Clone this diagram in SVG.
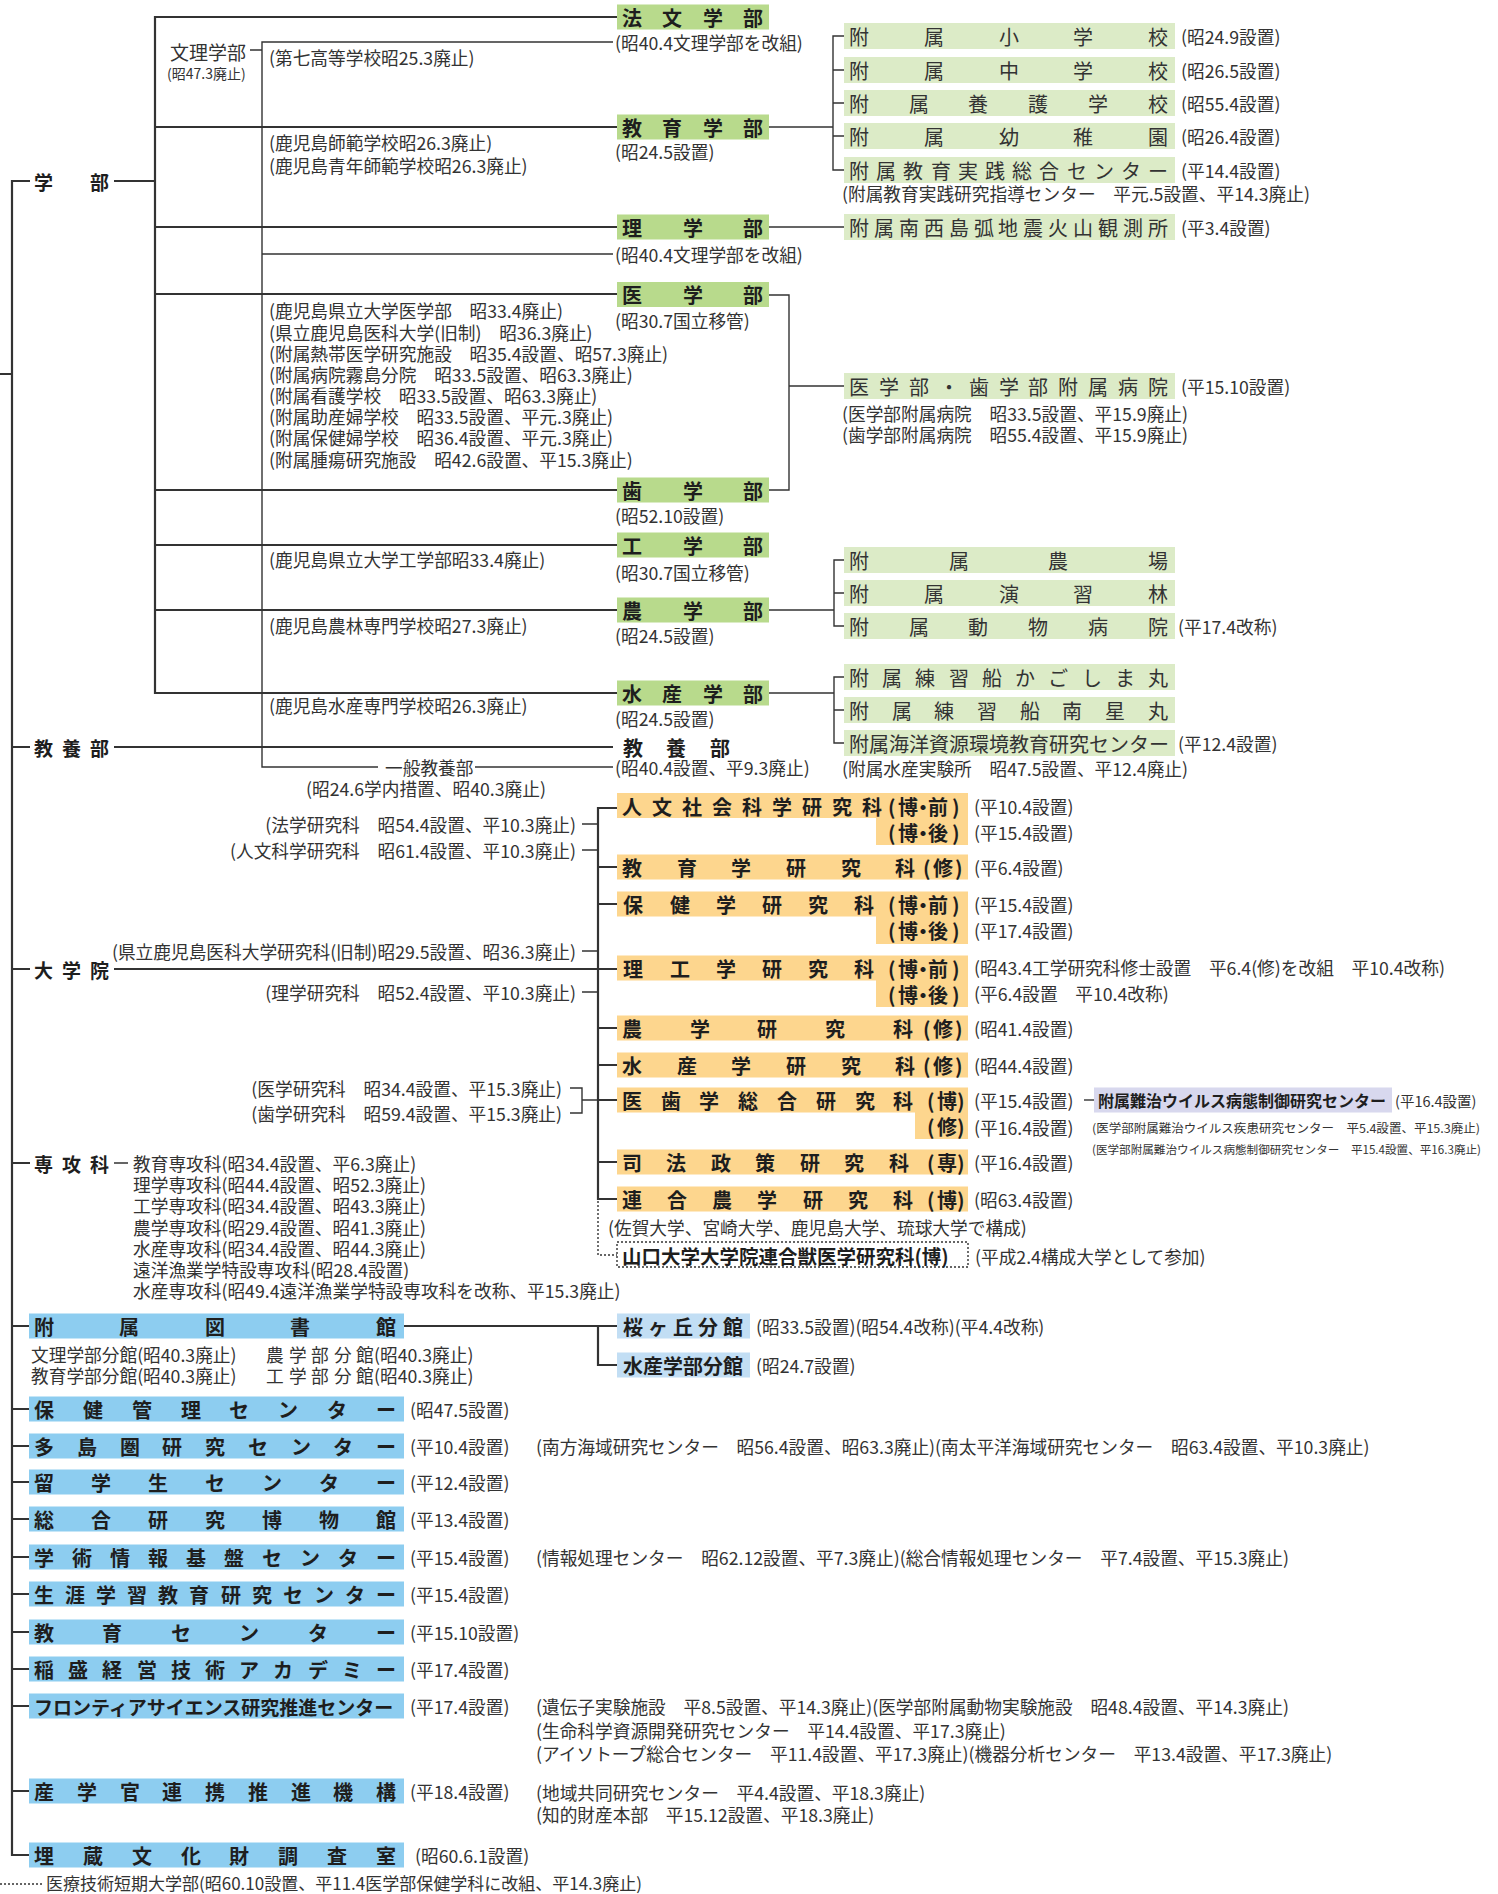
<svg xmlns="http://www.w3.org/2000/svg" width="1498" height="1894" viewBox="0 0 1498 1894">
<style>
text{font-family:"Noto Sans CJK JP","Noto Sans CJK SC",sans-serif;fill:#333;dominant-baseline:central}
.s{font-size:17.7px}
.xs{font-size:12px}
.b{font-size:20px;font-weight:bold;fill:#1e1e1e}
.lb{font-size:19px;font-weight:bold;fill:#1e1e1e}
.r{font-size:20px;fill:#333}
.fac{fill:#b8da8c}
.sub{fill:#dcebc7}
.gr{fill:#fdd68e}
.bl{fill:#8dcdf0}
.pu{fill:#d8d8ee}
.m{stroke:#333;stroke-width:2.2;fill:none}
.t{stroke:#333;stroke-width:1.4;fill:none}
.d{stroke:#333;stroke-width:1.4;fill:none;stroke-dasharray:2 2}
</style>
<rect width="1498" height="1894" fill="#fff"/>
<g id="connectors">
<path class="m" d="M30 181H12V1855H29M0 374H12M12 747H30M12 969H30M12 1163H30M12 1326H29M12 1409H29M12 1446H29M12 1482H29M12 1519H29M12 1557H29M12 1594H29M12 1632H29M12 1669H29M12 1706H29M12 1791H29"/>
<path class="m" d="M114 181H155M617 17H155V693H617M155 127H617M155 227H617M155 294H617M155 490H617M155 545H617M155 610H617"/>
<path class="m" d="M114 747H613M114 969H617M617 808H598V1199H617M598 867H617M598 904H617M598 1028H617M598 1065H617M598 1100H617M598 1162H617"/>
<path class="t" d="M582 824H598M582 850H598M582 951H598M582 992H598M570 1088H582V1113H570M582 1100H598M114 1163H128"/>
<path class="m" d="M404 1326H617M598 1326V1365H617"/>
<path class="t" d="M613 42H262V767H378M475 767H613M262 254H613M250 50H262"/>
<path class="t" d="M769 127H833M844 36H833V170H844M833 70H844M833 103H844M833 136H844M769 227H844"/>
<path class="t" d="M769 295H789V490H769M789 386H844"/>
<path class="t" d="M769 610H834M844 560H834V626H844M834 593H844M769 693H834M844 677H834V743H844M834 710H844"/>
<path class="t" d="M1084 1100H1094"/>
<path class="d" d="M598 1201V1255H617M0 1884H44"/>
</g>

<g id="left-labels">
<text class="lb" x="34 90" y="181">学部</text>
<text class="lb" x="34 62 90" y="747">教養部</text>
<text class="lb" x="34 62 90" y="969">大学院</text>
<text class="lb" x="34 62 90" y="1163">専攻科</text>
</g>

<g id="bunri">
<text x="170" y="51" style="font-size:19px">文理学部</text>
<text x="167" y="73" style="font-size:14px">(昭47.3廃止)</text>
<text class="s" x="269" y="57">(第七高等学校昭25.3廃止)</text>
<text class="s" x="615" y="42">(昭40.4文理学部を改組)</text>
<text class="s" x="615" y="254">(昭40.4文理学部を改組)</text>
</g>

<g id="old-notes">
<text class="s" x="269" y="142">(鹿児島師範学校昭26.3廃止)</text>
<text class="s" x="269" y="165">(鹿児島青年師範学校昭26.3廃止)</text>
<text class="s" x="269" y="310">(鹿児島県立大学医学部　昭33.4廃止)</text>
<text class="s" x="269" y="332">(県立鹿児島医科大学(旧制)　昭36.3廃止)</text>
<text class="s" x="269" y="353">(附属熱帯医学研究施設　昭35.4設置、昭57.3廃止)</text>
<text class="s" x="269" y="374">(附属病院霧島分院　昭33.5設置、昭63.3廃止)</text>
<text class="s" x="269" y="395">(附属看護学校　昭33.5設置、昭63.3廃止)</text>
<text class="s" x="269" y="416">(附属助産婦学校　昭33.5設置、平元.3廃止)</text>
<text class="s" x="269" y="437">(附属保健婦学校　昭36.4設置、平元.3廃止)</text>
<text class="s" x="269" y="459">(附属腫瘍研究施設　昭42.6設置、平15.3廃止)</text>
<text class="s" x="269" y="559">(鹿児島県立大学工学部昭33.4廃止)</text>
<text class="s" x="269" y="625">(鹿児島農林専門学校昭27.3廃止)</text>
<text class="s" x="269" y="705">(鹿児島水産専門学校昭26.3廃止)</text>
<text class="s" x="385" y="767">一般教養部</text>
<text class="s" x="306" y="788">(昭24.6学内措置、昭40.3廃止)</text>
</g>

<g id="hobun"><rect class="fac" x="617" y="4.5" width="152" height="25"/><text class="b" x="622 662 703 743" y="17">法文学部</text></g>
<g id="kyoiku"><rect class="fac" x="617" y="114.5" width="152" height="25"/><text class="b" x="622 662 703 743" y="127">教育学部</text><text class="s" x="615" y="151">(昭24.5設置)</text></g>
<g id="rigaku"><rect class="fac" x="617" y="214.5" width="152" height="25"/><text class="b" x="622 683 743" y="227">理学部</text></g>
<g id="igaku"><rect class="fac" x="617" y="282" width="152" height="25"/><text class="b" x="622 683 743" y="294.5">医学部</text><text class="s" x="615" y="320">(昭30.7国立移管)</text></g>
<g id="shigaku"><rect class="fac" x="617" y="477.5" width="152" height="25"/><text class="b" x="622 683 743" y="490">歯学部</text><text class="s" x="615" y="515">(昭52.10設置)</text></g>
<g id="kogaku"><rect class="fac" x="617" y="532.5" width="152" height="25"/><text class="b" x="622 683 743" y="545">工学部</text><text class="s" x="615" y="572">(昭30.7国立移管)</text></g>
<g id="nogaku"><rect class="fac" x="617" y="597.5" width="152" height="25"/><text class="b" x="622 683 743" y="610">農学部</text><text class="s" x="615" y="635">(昭24.5設置)</text></g>
<g id="suisan"><rect class="fac" x="617" y="680.5" width="152" height="25"/><text class="b" x="622 662 703 743" y="693">水産学部</text><text class="s" x="615" y="718">(昭24.5設置)</text></g>
<g id="kyoyobu"><text class="b" x="623 666 710" y="747">教養部</text><text class="s" x="615" y="767">(昭40.4設置、平9.3廃止)</text></g>

<g id="fuzoku-sho"><rect class="sub" x="844" y="23" width="331" height="26"/><text class="r" x="849 924 999 1073 1148" y="36">附属小学校</text><text class="s" x="1181" y="36">(昭24.9設置)</text></g>
<g id="fuzoku-chu"><rect class="sub" x="844" y="57" width="331" height="26"/><text class="r" x="849 924 999 1073 1148" y="70">附属中学校</text><text class="s" x="1181" y="70">(昭26.5設置)</text></g>
<g id="fuzoku-yogo"><rect class="sub" x="844" y="90" width="331" height="26"/><text class="r" x="849 909 968 1028 1088 1148" y="103">附属養護学校</text><text class="s" x="1181" y="103">(昭55.4設置)</text></g>
<g id="fuzoku-yochien"><rect class="sub" x="844" y="123" width="331" height="26"/><text class="r" x="849 924 999 1073 1148" y="136">附属幼稚園</text><text class="s" x="1181" y="136">(昭26.4設置)</text></g>
<g id="fuzoku-jissen"><rect class="sub" x="844" y="157" width="331" height="26"/><text class="r" x="849 876 903 931 958 985 1012 1039 1067 1094 1121 1148" y="170">附属教育実践総合センター</text><text class="s" x="1181" y="170">(平14.4設置)</text><text class="s" x="842" y="193">(附属教育実践研究指導センター　平元.5設置、平14.3廃止)</text></g>
<g id="fuzoku-jishin"><rect class="sub" x="844" y="214" width="331" height="26"/><text class="r" x="849 874 899 924 949 974 998 1023 1048 1073 1098 1123 1148" y="227">附属南西島弧地震火山観測所</text><text class="s" x="1181" y="227">(平3.4設置)</text></g>
<g id="byoin"><rect class="sub" x="844" y="373" width="331" height="26"/><text class="r" x="849 879 909 939 969 999 1028 1058 1088 1118 1148" y="386">医学部・歯学部附属病院</text><text class="s" x="1181" y="386">(平15.10設置)</text><text class="s" x="842" y="413">(医学部附属病院　昭33.5設置、平15.9廃止)</text><text class="s" x="842" y="434">(歯学部附属病院　昭55.4設置、平15.9廃止)</text></g>
<g id="nojo"><rect class="sub" x="844" y="547" width="331" height="26"/><text class="r" x="849 949 1048 1148" y="560">附属農場</text></g>
<g id="enshurin"><rect class="sub" x="844" y="580" width="331" height="26"/><text class="r" x="849 924 999 1073 1148" y="593">附属演習林</text></g>
<g id="dobutsu"><rect class="sub" x="844" y="613" width="331" height="26"/><text class="r" x="849 909 968 1028 1088 1148" y="626">附属動物病院</text><text class="s" x="1178" y="626">(平17.4改称)</text></g>
<g id="kagoshimamaru"><rect class="sub" x="844" y="664" width="331" height="26"/><text class="r" x="849 882 915 949 982 1015 1048 1082 1115 1148" y="677">附属練習船かごしま丸</text></g>
<g id="nanseimaru"><rect class="sub" x="844" y="697" width="331" height="26"/><text class="r" x="849 892 934 977 1020 1062 1105 1148" y="710">附属練習船南星丸</text></g>
<g id="kaiyo"><rect class="sub" x="844" y="730" width="331" height="26"/><text class="r" x="849" y="743">附属海洋資源環境教育研究センター</text><text class="s" x="1178" y="743">(平12.4設置)</text><text class="s" x="842" y="768">(附属水産実験所　昭47.5設置、平12.4廃止)</text></g>

<g id="grad-notes">
<text class="s" x="576" y="824" text-anchor="end">(法学研究科　昭54.4設置、平10.3廃止)</text>
<text class="s" x="576" y="850" text-anchor="end">(人文科学研究科　昭61.4設置、平10.3廃止)</text>
<text class="s" x="576" y="951" text-anchor="end">(県立鹿児島医科大学研究科(旧制)昭29.5設置、昭36.3廃止)</text>
<text class="s" x="576" y="992" text-anchor="end">(理学研究科　昭52.4設置、平10.3廃止)</text>
<text class="s" x="562" y="1088" text-anchor="end">(医学研究科　昭34.4設置、平15.3廃止)</text>
<text class="s" x="562" y="1113" text-anchor="end">(歯学研究科　昭59.4設置、平15.3廃止)</text>
</g>

<g id="jinbun"><path class="gr" d="M617 793H968V845H876V818H617Z"/><text class="b" x="622 652 682 712 742 772 802 832 862" y="806">人文社会科学研究科</text><text class="b" x="888 898 913 928 952" y="806">(博・前)</text><text class="b" x="888 898 913 928 952" y="832">(博・後)</text><text class="s" x="974" y="806">(平10.4設置)</text><text class="s" x="974" y="832">(平15.4設置)</text></g>
<g id="kyoikugaku"><rect class="gr" x="617" y="854.5" width="351" height="25"/><text class="b" x="622 677 731 786 841 895" y="867">教育学研究科</text><text class="b" x="923 933 955" y="867">(修)</text><text class="s" x="974" y="867">(平6.4設置)</text></g>
<g id="hoken"><path class="gr" d="M617 891.5H968V944H876V916.5H617Z"/><text class="b" x="623 670 716 762 808 854" y="904">保健学研究科</text><text class="b" x="888 898 913 928 952" y="904">(博・前)</text><text class="b" x="888 898 913 928 952" y="930">(博・後)</text><text class="s" x="974" y="904">(平15.4設置)</text><text class="s" x="974" y="930">(平17.4設置)</text></g>
<g id="riko"><path class="gr" d="M617 955.5H968V1007H876V980.5H617Z"/><text class="b" x="623 670 716 762 808 854" y="968">理工学研究科</text><text class="b" x="888 898 913 928 952" y="968">(博・前)</text><text class="b" x="888 898 913 928 952" y="994">(博・後)</text><text class="s" x="974" y="967">(昭43.4工学研究科修士設置　平6.4(修)を改組　平10.4改称)</text><text class="s" x="974" y="993">(平6.4設置　平10.4改称)</text></g>
<g id="nogakuken"><rect class="gr" x="617" y="1015.5" width="351" height="25"/><text class="b" x="622 690 757 825 893" y="1028">農学研究科</text><text class="b" x="923 933 955" y="1028">(修)</text><text class="s" x="974" y="1028">(昭41.4設置)</text></g>
<g id="suisanken"><rect class="gr" x="617" y="1052.5" width="351" height="25"/><text class="b" x="622 677 731 786 841 895" y="1065">水産学研究科</text><text class="b" x="923 933 955" y="1065">(修)</text><text class="s" x="974" y="1065">(昭44.4設置)</text></g>
<g id="ishi"><path class="gr" d="M617 1087.5H968V1139H915V1112.5H617Z"/><text class="b" x="622 661 699 738 777 816 855 893" y="1100">医歯学総合研究科</text><text class="b" x="927 937 957" y="1100">(博)</text><text class="b" x="927 937 957" y="1126">(修)</text><text class="s" x="974" y="1100">(平15.4設置)</text><text class="s" x="974" y="1127">(平16.4設置)</text></g>
<g id="nanchi"><rect class="pu" x="1094" y="1087.5" width="298" height="25"/><text x="1098" y="1100" style="font-size:16px;font-weight:bold;fill:#1e1e1e" textLength="288" lengthAdjust="spacingAndGlyphs">附属難治ウイルス病態制御研究センター</text><text x="1395" y="1100" style="font-size:14.5px">(平16.4設置)</text><text class="xs" x="1092" y="1127" textLength="388" lengthAdjust="spacingAndGlyphs">(医学部附属難治ウイルス疾患研究センター　平5.4設置、平15.3廃止)</text><text class="xs" x="1092" y="1149" textLength="389" lengthAdjust="spacingAndGlyphs" style="font-size:11.5px">(医学部附属難治ウイルス病態制御研究センター　平15.4設置、平16.3廃止)</text></g>
<g id="shiho"><rect class="gr" x="617" y="1149.5" width="351" height="25"/><text class="b" x="622 666 711 755 800 844 889" y="1162">司法政策研究科</text><text class="b" x="927 937 957" y="1162">(専)</text><text class="s" x="974" y="1162">(平16.4設置)</text></g>
<g id="rengo"><rect class="gr" x="617" y="1186.5" width="351" height="25"/><text class="b" x="622 667 712 757 803 848 893" y="1199">連合農学研究科</text><text class="b" x="927 937 957" y="1199">(博)</text><text class="s" x="974" y="1199">(昭63.4設置)</text><text class="s" x="608" y="1227">(佐賀大学、宮崎大学、鹿児島大学、琉球大学で構成)</text></g>
<g id="yamaguchi"><rect class="d" x="617" y="1242" width="351" height="25"/><text x="622" y="1255" style="font-size:19.5px;font-weight:bold;fill:#1e1e1e">山口大学大学院連合獣医学研究科(博)</text><text class="s" x="975" y="1256">(平成2.4構成大学として参加)</text></g>

<g id="senkoka">
<text class="s" x="133" y="1163">教育専攻科(昭34.4設置、平6.3廃止)</text>
<text class="s" x="133" y="1184">理学専攻科(昭44.4設置、昭52.3廃止)</text>
<text class="s" x="133" y="1205">工学専攻科(昭34.4設置、昭43.3廃止)</text>
<text class="s" x="133" y="1227">農学専攻科(昭29.4設置、昭41.3廃止)</text>
<text class="s" x="133" y="1248">水産専攻科(昭34.4設置、昭44.3廃止)</text>
<text class="s" x="133" y="1269">遠洋漁業学特設専攻科(昭28.4設置)</text>
<text class="s" x="133" y="1290">水産専攻科(昭49.4遠洋漁業学特設専攻科を改称、平15.3廃止)</text>
</g>

<g id="toshokan"><rect class="bl" x="29" y="1313.5" width="375" height="25"/><text class="b" x="34 119 205 290 376" y="1326">附属図書館</text>
<text class="s" x="31" y="1354">文理学部分館(昭40.3廃止)</text><text class="s" x="266 289 311 334 356 374" y="1354">農学部分館(昭40.3廃止)</text>
<text class="s" x="31" y="1375">教育学部分館(昭40.3廃止)</text><text class="s" x="266 289 311 334 356 374" y="1375">工学部分館(昭40.3廃止)</text></g>
<g id="sakuragaoka"><rect class="bl" x="617" y="1313.5" width="133" height="25" style="fill:#c2def4"/><text class="b" x="623 648 673 698 723" y="1326">桜ヶ丘分館</text><text class="s" x="756" y="1326">(昭33.5設置)(昭54.4改称)(平4.4改称)</text></g>
<g id="suisanbunkan"><rect class="bl" x="617" y="1352.5" width="133" height="25" style="fill:#c2def4"/><text class="b" x="623" y="1365">水産学部分館</text><text class="s" x="756" y="1365">(昭24.7設置)</text></g>

<g id="hoken-kanri"><rect class="bl" x="29" y="1396.5" width="375" height="25"/><text class="b" x="34 83 132 181 229 278 327 376" y="1409">保健管理センター</text><text class="s" x="410" y="1409">(昭47.5設置)</text></g>
<g id="tatoken"><rect class="bl" x="29" y="1433.5" width="375" height="25"/><text class="b" x="34 77 120 162 205 248 291 333 376" y="1446">多島圏研究センター</text><text class="s" x="410" y="1446">(平10.4設置)</text><text class="s" x="536" y="1446">(南方海域研究センター　昭56.4設置、昭63.3廃止)(南太平洋海域研究センター　昭63.4設置、平10.3廃止)</text></g>
<g id="ryugakusei"><rect class="bl" x="29" y="1469.5" width="375" height="25"/><text class="b" x="34 91 148 205 262 319 376" y="1482">留学生センター</text><text class="s" x="410" y="1482">(平12.4設置)</text></g>
<g id="hakubutsukan"><rect class="bl" x="29" y="1506.5" width="375" height="25"/><text class="b" x="34 91 148 205 262 319 376" y="1519">総合研究博物館</text><text class="s" x="410" y="1519">(平13.4設置)</text></g>
<g id="gakujutsu"><rect class="bl" x="29" y="1544.5" width="375" height="25"/><text class="b" x="34 72 110 148 186 224 262 300 338 376" y="1557">学術情報基盤センター</text><text class="s" x="410" y="1557">(平15.4設置)</text><text class="s" x="536" y="1557">(情報処理センター　昭62.12設置、平7.3廃止)(総合情報処理センター　平7.4設置、平15.3廃止)</text></g>
<g id="shogai"><rect class="bl" x="29" y="1581.5" width="375" height="25"/><text class="b" x="34 65 96 127 158 189 221 252 283 314 345 376" y="1594">生涯学習教育研究センター</text><text class="s" x="410" y="1594">(平15.4設置)</text></g>
<g id="kyoiku-center"><rect class="bl" x="29" y="1619.5" width="375" height="25"/><text class="b" x="34 102 171 239 308 376" y="1632">教育センター</text><text class="s" x="410" y="1632">(平15.10設置)</text></g>
<g id="inamori"><rect class="bl" x="29" y="1656.5" width="375" height="25"/><text class="b" x="34 68 102 137 171 205 239 273 308 342 376" y="1669">稲盛経営技術アカデミー</text><text class="s" x="410" y="1669">(平17.4設置)</text></g>
<g id="frontier"><rect class="bl" x="29" y="1693.5" width="375" height="25"/><text x="34" y="1706" style="font-size:19px;font-weight:bold;fill:#1e1e1e">フロンティアサイエンス研究推進センター</text><text class="s" x="410" y="1706">(平17.4設置)</text><text class="s" x="536" y="1706">(遺伝子実験施設　平8.5設置、平14.3廃止)(医学部附属動物実験施設　昭48.4設置、平14.3廃止)</text><text class="s" x="536" y="1730">(生命科学資源開発研究センター　平14.4設置、平17.3廃止)</text><text class="s" x="536" y="1753">(アイソトープ総合センター　平11.4設置、平17.3廃止)(機器分析センター　平13.4設置、平17.3廃止)</text></g>
<g id="sangakukan"><rect class="bl" x="29" y="1778.5" width="375" height="25"/><text class="b" x="34 77 120 162 205 248 291 333 376" y="1791">産学官連携推進機構</text><text class="s" x="410" y="1791">(平18.4設置)</text><text class="s" x="536" y="1792">(地域共同研究センター　平4.4設置、平18.3廃止)</text><text class="s" x="536" y="1814">(知的財産本部　平15.12設置、平18.3廃止)</text></g>
<g id="maizo"><rect class="bl" x="29" y="1842.5" width="375" height="25"/><text class="b" x="34 83 132 181 229 278 327 376" y="1855">埋蔵文化財調査室</text><text class="s" x="415" y="1855">(昭60.6.1設置)</text></g>
<g id="iryo-tanki"><text x="46" y="1882" style="font-size:17px">医療技術短期大学部(昭60.10設置、平11.4医学部保健学科に改組、平14.3廃止)</text></g>
</svg>
